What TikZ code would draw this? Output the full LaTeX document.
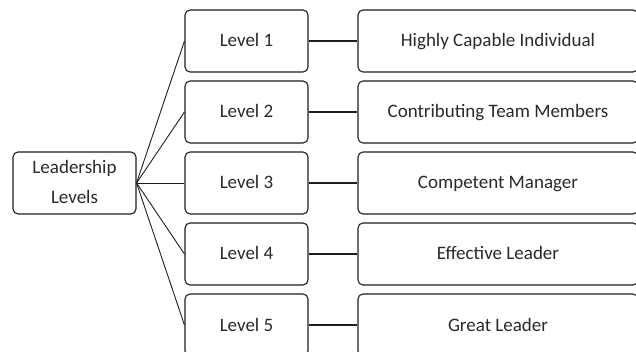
\documentclass[tikz,border=0pt]{standalone}
\usepackage{fontspec}
\setmainfont{Carlito}
\definecolor{ink}{HTML}{1E1E1E}
\definecolor{txt}{HTML}{2A2A2A}
\begin{document}
\begin{tikzpicture}[x=1pt,y=-1pt,
  box/.style={draw=ink,line width=1.1pt,rounded corners=5pt,fill=white,
    inner sep=0pt,text=txt,font=\fontsize{19}{30}\selectfont,align=center,
    text height=13pt,text depth=1pt},
  lvl/.style={box,minimum width=123pt,minimum height=62pt},
  res/.style={box,minimum width=280pt,minimum height=62pt},
  fan/.style={draw=ink,line width=0.9pt},
  link/.style={draw=ink,line width=1.5pt}]
\useasboundingbox (0,0) rectangle (636,352);
\clip (0,0) rectangle (636,352);
\node[box,minimum width=123pt,minimum height=62pt,text height=43pt] (root) at (74.5,183) {Leadership\\Levels};
\foreach \i/\y/\t in {1/41/Highly Capable Individual,2/112/Contributing Team Members,3/183/Competent Manager,4/254/Effective Leader,5/325/Great Leader}{
  \node[lvl] (l\i) at (246.5,\y) {Level \i};
  \node[res] (r\i) at (498,\y) {\t};
  \draw[fan] (root.east) -- (l\i.west);
  \draw[link] (l\i.east) -- (r\i.west);
}
\end{tikzpicture}
\end{document}
